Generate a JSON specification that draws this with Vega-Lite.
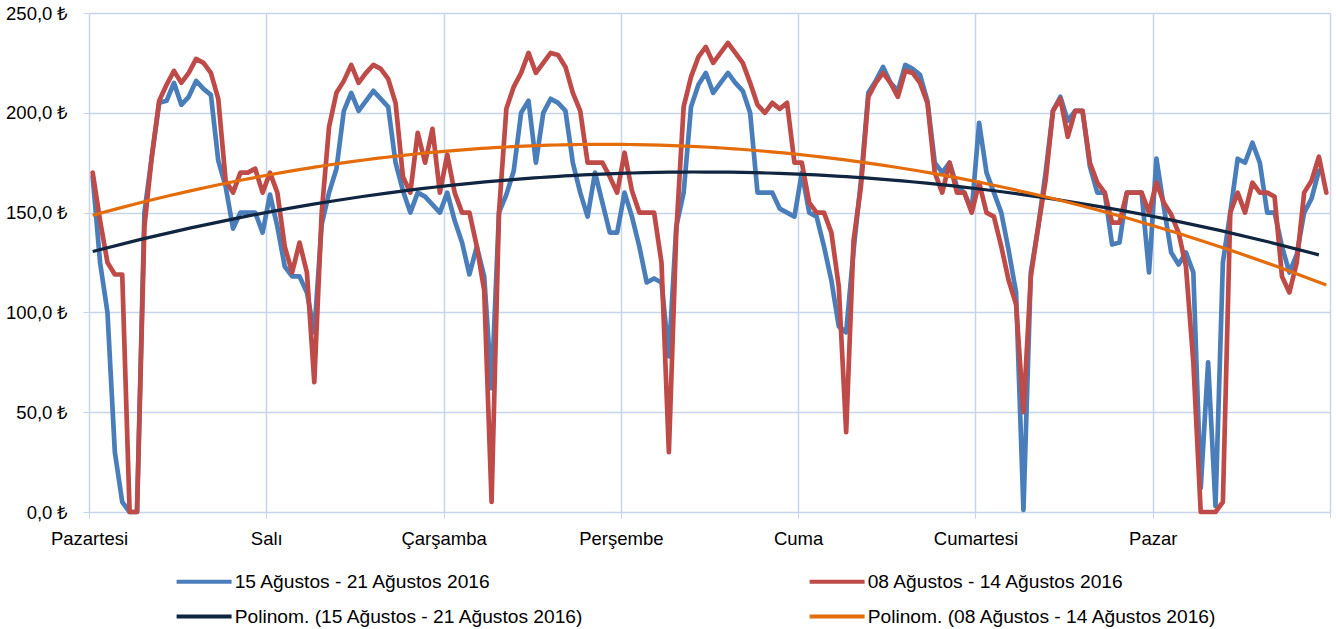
{
  "$schema": "https://vega.github.io/schema/vega-lite/v6.json",
  "width": 1241,
  "height": 499,
  "autosize": {"type": "none"},
  "padding": {"left": 89, "top": 13, "right": 6, "bottom": 117},
  "background": "white",
  "config": {
    "view": {"stroke": null},
    "font": "Liberation Sans",
    "axis": {"labelFont": "Liberation Sans", "labelFontSize": 18.5, "labelColor": "#000000", "gridColor": "#C6D5E9", "tickColor": "#C6D5E9", "gridWidth": 1.5, "domain": false, "title": null},
    "legend": {"orient": "none", "legendX": 83, "legendY": 559, "columns": 2, "columnPadding": 216, "rowPadding": 15, "symbolType": "M-5.5,0H5.5", "symbolSize": 100, "symbolOffset": 22.5, "symbolStrokeWidth": 4, "labelOffset": 21, "labelFontSize": 19.2, "labelFont": "Liberation Sans", "labelColor": "#000000", "labelLimit": 800, "padding": 0, "title": null}
  },
  "datasets": {
    "b15": [
      {"h":0,"v":168},{"h":1,"v":125},{"h":2,"v":100},{"h":3,"v":30},{"h":4,"v":5},{"h":5,"v":0},{"h":6,"v":0},{"h":7,"v":150},{"h":8,"v":178},{"h":9,"v":205},{"h":10,"v":206},{"h":11,"v":215},{"h":12,"v":204},{"h":13,"v":208},{"h":14,"v":216},{"h":15,"v":212},{"h":16,"v":209},{"h":17,"v":176},{"h":18,"v":163},{"h":19,"v":142},{"h":20,"v":150},{"h":21,"v":150},{"h":22,"v":150},{"h":23,"v":140},
      {"h":24,"v":159},{"h":25,"v":143},{"h":26,"v":123},{"h":27,"v":118},{"h":28,"v":118},{"h":29,"v":110},{"h":30,"v":90},{"h":31,"v":144},{"h":32,"v":160},{"h":33,"v":172},{"h":34,"v":201},{"h":35,"v":210},{"h":36,"v":201},{"h":37,"v":206},{"h":38,"v":211},{"h":39,"v":207},{"h":40,"v":203},{"h":41,"v":175},{"h":42,"v":161},{"h":43,"v":150},{"h":44,"v":160},{"h":45,"v":158},{"h":46,"v":154},{"h":47,"v":150},
      {"h":48,"v":160},{"h":49,"v":146},{"h":50,"v":135},{"h":51,"v":119},{"h":52,"v":133},{"h":53,"v":118},{"h":54,"v":62},{"h":55,"v":150},{"h":56,"v":159},{"h":57,"v":171},{"h":58,"v":200},{"h":59,"v":206},{"h":60,"v":175},{"h":61,"v":200},{"h":62,"v":207},{"h":63,"v":205},{"h":64,"v":201},{"h":65,"v":175},{"h":66,"v":160},{"h":67,"v":148},{"h":68,"v":170},{"h":69,"v":155},{"h":70,"v":140},{"h":71,"v":140},
      {"h":72,"v":160},{"h":73,"v":148},{"h":74,"v":133},{"h":75,"v":115},{"h":76,"v":117},{"h":77,"v":115},{"h":78,"v":78},{"h":79,"v":143},{"h":80,"v":160},{"h":81,"v":203},{"h":82,"v":214},{"h":83,"v":220},{"h":84,"v":210},{"h":85,"v":215},{"h":86,"v":220},{"h":87,"v":215},{"h":88,"v":211},{"h":89,"v":200},{"h":90,"v":160},{"h":91,"v":160},{"h":92,"v":160},{"h":93,"v":152},{"h":94,"v":150},{"h":95,"v":148},
      {"h":96,"v":170},{"h":97,"v":150},{"h":98,"v":148},{"h":99,"v":133},{"h":100,"v":116},{"h":101,"v":93},{"h":102,"v":90},{"h":103,"v":131},{"h":104,"v":166},{"h":105,"v":210},{"h":106,"v":216},{"h":107,"v":223},{"h":108,"v":215},{"h":109,"v":211},{"h":110,"v":224},{"h":111,"v":222},{"h":112,"v":219},{"h":113,"v":206},{"h":114,"v":175},{"h":115,"v":170},{"h":116,"v":175},{"h":117,"v":163},{"h":118,"v":160},{"h":119,"v":151},
      {"h":120,"v":195},{"h":121,"v":170},{"h":122,"v":160},{"h":123,"v":150},{"h":124,"v":131},{"h":125,"v":110},{"h":126,"v":1},{"h":127,"v":120},{"h":128,"v":143},{"h":129,"v":170},{"h":130,"v":201},{"h":131,"v":208},{"h":132,"v":196},{"h":133,"v":201},{"h":134,"v":201},{"h":135,"v":173},{"h":136,"v":160},{"h":137,"v":160},{"h":138,"v":134},{"h":139,"v":135},{"h":140,"v":160},{"h":141,"v":160},{"h":142,"v":160},{"h":143,"v":120},
      {"h":144,"v":177},{"h":145,"v":153},{"h":146,"v":130},{"h":147,"v":124},{"h":148,"v":130},{"h":149,"v":120},{"h":150,"v":12},{"h":151,"v":75},{"h":152,"v":3},{"h":153,"v":125},{"h":154,"v":150},{"h":155,"v":177},{"h":156,"v":175},{"h":157,"v":185},{"h":158,"v":175},{"h":159,"v":150},{"h":160,"v":150},{"h":161,"v":133},{"h":162,"v":120},{"h":163,"v":129},{"h":164,"v":150},{"h":165,"v":157},{"h":166,"v":171}
    ],
    "r08": [
      {"h":0,"v":170},{"h":1,"v":146},{"h":2,"v":125},{"h":3,"v":119},{"h":4,"v":119},{"h":5,"v":0},{"h":6,"v":0},{"h":7,"v":143},{"h":8,"v":178},{"h":9,"v":206},{"h":10,"v":214},{"h":11,"v":221},{"h":12,"v":215},{"h":13,"v":220},{"h":14,"v":227},{"h":15,"v":225},{"h":16,"v":220},{"h":17,"v":207},{"h":18,"v":166},{"h":19,"v":160},{"h":20,"v":170},{"h":21,"v":170},{"h":22,"v":172},{"h":23,"v":160},
      {"h":24,"v":170},{"h":25,"v":160},{"h":26,"v":133},{"h":27,"v":120},{"h":28,"v":135},{"h":29,"v":120},{"h":30,"v":65},{"h":31,"v":150},{"h":32,"v":193},{"h":33,"v":210},{"h":34,"v":216},{"h":35,"v":224},{"h":36,"v":215},{"h":37,"v":220},{"h":38,"v":224},{"h":39,"v":222},{"h":40,"v":217},{"h":41,"v":205},{"h":42,"v":168},{"h":43,"v":160},{"h":44,"v":190},{"h":45,"v":175},{"h":46,"v":192},{"h":47,"v":160},
      {"h":48,"v":179},{"h":49,"v":160},{"h":50,"v":150},{"h":51,"v":150},{"h":52,"v":133},{"h":53,"v":111},{"h":54,"v":5},{"h":55,"v":150},{"h":56,"v":202},{"h":57,"v":213},{"h":58,"v":220},{"h":59,"v":230},{"h":60,"v":220},{"h":61,"v":225},{"h":62,"v":230},{"h":63,"v":229},{"h":64,"v":223},{"h":65,"v":210},{"h":66,"v":201},{"h":67,"v":175},{"h":68,"v":175},{"h":69,"v":175},{"h":70,"v":168},{"h":71,"v":160},
      {"h":72,"v":180},{"h":73,"v":161},{"h":74,"v":150},{"h":75,"v":150},{"h":76,"v":150},{"h":77,"v":125},{"h":78,"v":30},{"h":79,"v":140},{"h":80,"v":203},{"h":81,"v":218},{"h":82,"v":228},{"h":83,"v":233},{"h":84,"v":225},{"h":85,"v":230},{"h":86,"v":235},{"h":87,"v":230},{"h":88,"v":225},{"h":89,"v":215},{"h":90,"v":204},{"h":91,"v":200},{"h":92,"v":205},{"h":93,"v":202},{"h":94,"v":205},{"h":95,"v":175},
      {"h":96,"v":175},{"h":97,"v":155},{"h":98,"v":150},{"h":99,"v":150},{"h":100,"v":140},{"h":101,"v":113},{"h":102,"v":40},{"h":103,"v":136},{"h":104,"v":163},{"h":105,"v":208},{"h":106,"v":215},{"h":107,"v":220},{"h":108,"v":215},{"h":109,"v":208},{"h":110,"v":221},{"h":111,"v":220},{"h":112,"v":215},{"h":113,"v":205},{"h":114,"v":170},{"h":115,"v":160},{"h":116,"v":175},{"h":117,"v":160},{"h":118,"v":160},{"h":119,"v":150},
      {"h":120,"v":165},{"h":121,"v":150},{"h":122,"v":148},{"h":123,"v":133},{"h":124,"v":116},{"h":125,"v":104},{"h":126,"v":50},{"h":127,"v":118},{"h":128,"v":143},{"h":129,"v":166},{"h":130,"v":201},{"h":131,"v":207},{"h":132,"v":188},{"h":133,"v":201},{"h":134,"v":201},{"h":135,"v":175},{"h":136,"v":165},{"h":137,"v":160},{"h":138,"v":145},{"h":139,"v":145},{"h":140,"v":160},{"h":141,"v":160},{"h":142,"v":160},{"h":143,"v":150},
      {"h":144,"v":165},{"h":145,"v":155},{"h":146,"v":149},{"h":147,"v":140},{"h":148,"v":123},{"h":149,"v":75},{"h":150,"v":0},{"h":151,"v":0},{"h":152,"v":0},{"h":153,"v":5},{"h":154,"v":150},{"h":155,"v":160},{"h":156,"v":150},{"h":157,"v":165},{"h":158,"v":160},{"h":159,"v":160},{"h":160,"v":158},{"h":161,"v":118},{"h":162,"v":110},{"h":163,"v":125},{"h":164,"v":160},{"h":165,"v":166},{"h":166,"v":178},{"h":167,"v":160}
    ]
  },
  "encoding": {
    "x": {"field": "h", "type": "quantitative", "scale": {"domain": [-0.5, 167.5], "nice": false, "zero": false},
      "axis": {"values": [-0.5, 23.5, 47.5, 71.5, 95.5, 119.5, 143.5, 167.5], "grid": true, "ticks": true, "tickSize": 6, "labelPadding": 11, "labelDx": 3.7, "labelAlign": "center", "labelFlush": false, "labelOverlap": false, "labelBound": false,
        "labelExpr": "['Pazartesi','Salı','Çarşamba','Perşembe','Cuma','Cumartesi','Pazar',''][round((datum.value + 0.5) / 24)]"}},
    "y": {"field": "v", "type": "quantitative", "scale": {"domain": [0, 250], "nice": false},
      "axis": {"values": [0, 50, 100, 150, 200, 250], "grid": true, "ticks": true, "tickSize": 6, "labelPadding": 15,
        "labelExpr": "replace(format(datum.value, '.1f'), '.', ',') + ' ₺'"}}
  },
  "layer": [
    {"data": {"name": "b15"}, "mark": {"type": "line", "strokeWidth": 4.7, "strokeJoin": "round", "strokeCap": "round"},
     "encoding": {"color": {"datum": "15 Ağustos - 21 Ağustos 2016", "type": "nominal",
       "scale": {"domain": ["15 Ağustos - 21 Ağustos 2016", "Polinom. (15 Ağustos - 21 Ağustos 2016)", "08 Ağustos - 14 Ağustos 2016", "Polinom. (08 Ağustos - 14 Ağustos 2016)"], "range": ["#4A7EBB", "#10253F", "#BE4B48", "#E46C0A"]}}}},
    {"data": {"name": "r08"}, "mark": {"type": "line", "strokeWidth": 4.7, "strokeJoin": "round", "strokeCap": "round"},
     "encoding": {"color": {"datum": "08 Ağustos - 14 Ağustos 2016", "type": "nominal"}}},
    {"data": {"name": "b15"}, "transform": [{"regression": "v", "on": "h", "method": "poly", "order": 2}],
     "mark": {"type": "line", "strokeWidth": 3.2},
     "encoding": {"color": {"datum": "Polinom. (15 Ağustos - 21 Ağustos 2016)", "type": "nominal"}}},
    {"data": {"name": "r08"}, "transform": [{"regression": "v", "on": "h", "method": "poly", "order": 2}],
     "mark": {"type": "line", "strokeWidth": 3.2},
     "encoding": {"color": {"datum": "Polinom. (08 Ağustos - 14 Ağustos 2016)", "type": "nominal"}}}
  ]
}
